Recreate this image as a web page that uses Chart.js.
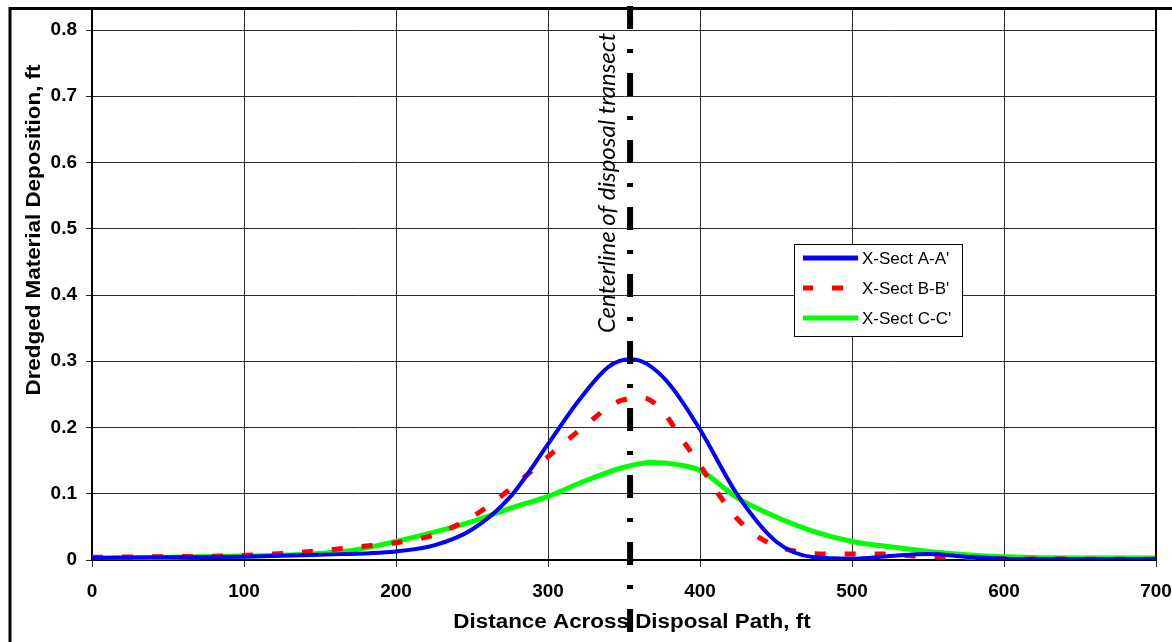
<!DOCTYPE html>
<html>
<head>
    <title>Dredged Material Deposition</title>
    <script src="https://cdn.jsdelivr.net/npm/chart.js"></script>
    <style>
        body { margin: 0; background: #fff; }
    </style>
</head>
<body>
    <canvas id="grafica" width="1172" height="642"></canvas>
    <script>
        // datos (distancia en ft, deposicion en ft)
        const distA = [0, 50, 100, 150, 200, 225, 250, 275, 300, 320, 340, 354, 365, 380, 400, 425, 450, 475, 500, 525, 550, 575, 600, 650, 700];
        const sectA = [0.003, 0.004, 0.005, 0.008, 0.013, 0.022, 0.046, 0.095, 0.175, 0.240, 0.292, 0.303, 0.296, 0.265, 0.197, 0.097, 0.028, 0.004, 0.002, 0.006, 0.009, 0.005, 0.002, 0.001, 0.001];

        const distB = [0, 50, 100, 150, 175, 200, 225, 250, 275, 300, 325, 345, 362, 375, 387, 400, 412, 425, 441, 461, 481, 500, 522, 540, 560, 600, 700];
        const sectB = [0.004, 0.005, 0.007, 0.014, 0.02, 0.026, 0.038, 0.065, 0.107, 0.156, 0.204, 0.238, 0.245, 0.226, 0.186, 0.143, 0.100, 0.061, 0.031, 0.014, 0.009, 0.009, 0.009, 0.006, 0.004, 0.002, 0.001];

        const distC = [0, 50, 100, 150, 175, 200, 225, 250, 275, 300, 325, 350, 368, 385, 400, 425, 450, 475, 500, 525, 550, 575, 600, 650, 700];
        const sectC = [0.003, 0.004, 0.006, 0.010, 0.016, 0.028, 0.042, 0.058, 0.078, 0.096, 0.120, 0.140, 0.147, 0.144, 0.135, 0.093, 0.065, 0.043, 0.028, 0.020, 0.013, 0.008, 0.005, 0.003, 0.003];

        const etiquetas = ["X-Sect A-A'", "X-Sect B-B'", "X-Sect C-C'"];
        const xTicks = [0, 100, 200, 300, 400, 500, 600, 700];
        const yTicks = [0, 0.1, 0.2, 0.3, 0.4, 0.5, 0.6, 0.7, 0.8];
        const centerline = 354;
        const centerlineLabel = 'Centerline of disposal transect';
        const xTitle = 'Distance Across Disposal Path, ft';
        const yTitle = 'Dredged Material Deposition, ft';

        const puntos = (xs, ys) => xs.map((x, i) => ({ x: x, y: ys[i] }));

        // texto un poco ensanchado como en la figura original
        function textoAncho(ctx, txt, x, y, rot) {
            ctx.save();
            ctx.translate(x, y);
            ctx.rotate(rot);
            ctx.scale(1.12, 1);
            ctx.fillText(txt, 0, 0);
            ctx.restore();
        }

        // marco, borde derecho, titulos, linea central y leyenda
        const extras = {
            id: 'extras',
            beforeDraw(chart) {
                const ctx = chart.ctx;
                ctx.save();
                ctx.fillStyle = '#fff';
                ctx.fillRect(0, 0, chart.width, chart.height);
                ctx.restore();
            },
            afterDatasetsDraw(chart) {
                const ctx = chart.ctx;
                const area = chart.chartArea;
                const xs = chart.scales.x;
                ctx.save();

                // borde derecho del area
                ctx.strokeStyle = '#000';
                ctx.lineWidth = 2;
                ctx.beginPath();
                ctx.moveTo(area.right, area.top);
                ctx.lineTo(area.right, area.bottom);
                ctx.stroke();

                // marco exterior
                ctx.lineWidth = 3;
                ctx.beginPath();
                ctx.moveTo(10, chart.height);
                ctx.lineTo(10, 8.5);
                ctx.lineTo(chart.width, 8.5);
                ctx.stroke();

                // titulos de ejes
                ctx.fillStyle = '#000';
                ctx.font = 'bold 20px "Liberation Sans"';
                ctx.textAlign = 'center';
                ctx.textBaseline = 'alphabetic';
                textoAncho(ctx, xTitle, 632, 628, 0);
                textoAncho(ctx, yTitle, 40, 230, -Math.PI / 2);

                // linea central
                const cx = xs.getPixelForValue(centerline);
                ctx.lineWidth = 6;
                ctx.setLineDash([23, 20, 4, 20]);
                ctx.lineDashOffset = 61;
                ctx.beginPath();
                ctx.moveTo(cx, 0);
                ctx.lineTo(cx, chart.height);
                ctx.stroke();
                ctx.setLineDash([]);

                ctx.save();
                ctx.translate(cx - 15, 333);
                ctx.rotate(-Math.PI / 2);
                ctx.font = 'italic 24px Lato';
                ctx.textAlign = 'left';
                ctx.fillText(centerlineLabel, 0, 0);
                ctx.restore();

                // leyenda
                const lx = 794, ly = 244, lw = 168, lh = 92;
                ctx.fillStyle = '#fff';
                ctx.fillRect(lx, ly, lw, lh);
                ctx.strokeStyle = '#000';
                ctx.lineWidth = 1;
                ctx.strokeRect(lx + 0.5, ly + 0.5, lw, lh);
                ctx.font = '17px "Liberation Sans"';
                ctx.textAlign = 'left';
                ctx.textBaseline = 'middle';
                chart.data.datasets.forEach((ds, i) => {
                    const y = ly + 14 + i * 30;
                    ctx.strokeStyle = ds.borderColor;
                    ctx.lineWidth = 5;
                    ctx.setLineDash(ds.borderDash || []);
                    ctx.beginPath();
                    ctx.moveTo(lx + 9, y);
                    ctx.lineTo(lx + 64, y);
                    ctx.stroke();
                    ctx.setLineDash([]);
                    ctx.fillStyle = '#000';
                    ctx.fillText(ds.label, lx + 68, y + 1);
                });
                ctx.restore();
            }
        };

        new Chart(document.getElementById('grafica'), {
            type: 'line',
            data: {
                datasets: [{
                    label: etiquetas[0],
                    data: puntos(distA, sectA),
                    borderColor: '#0000ff',
                    borderWidth: 4
                }, {
                    label: etiquetas[1],
                    data: puntos(distB, sectB),
                    borderColor: '#ff0000',
                    borderWidth: 5,
                    borderDash: [11, 19]
                }, {
                    label: etiquetas[2],
                    data: puntos(distC, sectC),
                    borderColor: '#00ff00',
                    borderWidth: 5
                }]
            },
            options: {
                responsive: false,
                animation: false,
                layout: { padding: { top: 9, right: 16, left: 0, bottom: 0 } },
                elements: {
                    point: { radius: 0 },
                    line: { cubicInterpolationMode: 'monotone', fill: false }
                },
                plugins: {
                    legend: { display: false },
                    tooltip: { enabled: false }
                },
                scales: {
                    x: {
                        type: 'linear',
                        min: 0,
                        max: 700,
                        afterFit: s => { s.height = 82; s.paddingLeft = 0; s.paddingRight = 0; },
                        afterBuildTicks: s => { s.ticks = xTicks.map(v => ({ value: v })); },
                        grid: { color: '#2a2a2a', lineWidth: 1, tickLength: 7, tickColor: '#2a2a2a' },
                        border: { color: '#000', width: 2 },
                        ticks: {
                            color: '#000',
                            padding: 13,
                            maxRotation: 0,
                            font: { family: 'Liberation Sans', size: 19, weight: 'bold' }
                        }
                    },
                    y: {
                        min: 0,
                        max: 0.8317,
                        afterFit: s => { s.width = 92; s.paddingTop = 0; s.paddingBottom = 0; },
                        afterBuildTicks: s => { s.ticks = yTicks.map(v => ({ value: v })); },
                        grid: { color: '#2a2a2a', lineWidth: 1, tickLength: 6, tickColor: '#2a2a2a' },
                        border: { color: '#000', width: 2 },
                        ticks: {
                            color: '#000',
                            padding: 9,
                            font: { family: 'Liberation Sans', size: 19, weight: 'bold' },
                            callback: v => v === 0 ? '0' : v.toFixed(1)
                        }
                    }
                }
            },
            plugins: [extras]
        });
    </script>
</body>
</html>
